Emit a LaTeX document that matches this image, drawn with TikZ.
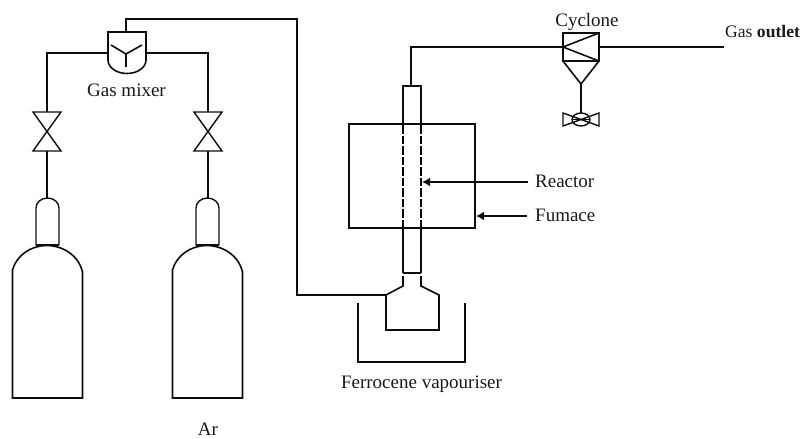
\documentclass[tikz,border=0pt]{standalone}
\usepackage{fontspec}
\setmainfont{Liberation Serif}
\usetikzlibrary{arrows.meta}
\tikzset{
  x=1pt,y=-1pt,
  pipe/.style={draw=black!95,line width=1.6pt,line join=miter},
  thin pipe/.style={pipe,line width=1.4pt},
  lbl/.style={inner sep=0pt,anchor=base,font=\fontsize{19}{20}\selectfont,text=black!90},
  arrowline/.style={pipe,-{Latex[length=8pt,width=9pt]}},
}
\begin{document}
\begin{tikzpicture}
\useasboundingbox (0,0) rectangle (804,439);
% named connection points
\coordinate (mixT) at (126,32);
\coordinate (mixL) at (108,53);
\coordinate (mixR) at (146,53);
\coordinate (v1T) at (47,112);
\coordinate (v1B) at (47,151);
\coordinate (v2T) at (208,112);
\coordinate (v2B) at (208,151);
\coordinate (c1T) at (47,198);
\coordinate (c2T) at (208,198);
\coordinate (flaskL) at (386,295);
\coordinate (reactT) at (411,86);
\coordinate (cycL) at (563,47);
\coordinate (cycR) at (599,47);
\coordinate (cycB) at (581,84);
\coordinate (drainT) at (581,113);
\coordinate (gasEnd) at (724,47);
\coordinate (reactE) at (422,182);
\coordinate (reactS) at (528,182);
\coordinate (furnE) at (476,216);
\coordinate (furnS) at (527,216);

% gas mixer
\draw[pipe] (108,32) -- (146,32) -- (146,60) arc[start angle=0,end angle=180,x radius=19,y radius=13.5] -- cycle;
\draw[pipe] (111,45) -- (126,54) -- (142,45) (126,54) -- (126,67);
% valves
\foreach \x in {47,208}{
  \draw[thin pipe] (\x-14,112) -- (\x+14,112) -- (\x-14,151) -- (\x+14,151) -- cycle;
}
% cylinders
\foreach \x in {47.5,207.5}{
  \draw[thin pipe] (\x-11.5,245) -- (\x-11.5,208) arc[start angle=180,end angle=360,x radius=11.5,y radius=10] -- (\x+11.5,245);
  \draw[pipe,line width=2pt] (\x-11.5,245) -- (\x+11.5,245);
  \draw[pipe] (\x-35,398) -- (\x-35,270) .. controls (\x-31,255) and (\x-16,245.5) .. (\x-1,245.5) .. controls (\x+15,245.5) and (\x+31,255) .. (\x+35,272) -- (\x+35,398) -- cycle;
}
% connectors left part
\draw[pipe] (mixT) -- (126,19) -- (297,19) -- (297,295) -- (flaskL);
\draw[pipe] (mixL) -| (v1T);
\draw[pipe] (mixR) -| (v2T);
\draw[pipe] (v1B) -- (c1T);
\draw[pipe] (v2B) -- (c2T);
% furnace
\draw[thin pipe] (349,124) rectangle (475,228);
% reactor
\draw[pipe,line width=1.9pt] (403,125) -- (403,86) -- (421,86) -- (421,125);
\draw[pipe] (403,273) -- (421,273);
\draw[pipe,line width=1.9pt] (403,221) -- (403,273);
\draw[pipe] (421,221) -- (421,273);
\draw[line width=2.5pt,black,dash pattern=on 8.5pt off 2pt] (403,125) -- (403,221);
\draw[line width=1.5pt,black,dash pattern=on 8.5pt off 2pt] (421,125) -- (421,221);
% flask and bath
\draw[pipe] (403,276) -- (403,286) -- (flaskL) -- (386,330) -- (439,330) -- (439,295) -- (421,286) -- (421,276);
\draw[pipe] (358,303) -- (358,362) -- (465,362) -- (465,303);
% cyclone
\draw[pipe] (563,33) rectangle (599,61);
\draw[pipe] (599,33) -- (cycL) -- (599,61);
\draw[pipe] (563,61) -- (cycB) -- (599,61);
\draw[pipe] (reactT) -- (411,47) -- (cycL);
\draw[pipe] (cycR) -- (gasEnd);
\draw[pipe] (cycB) -- (drainT);
\draw[thin pipe] (563,113) -- (599,126) -- (599,113) -- (563,126) -- cycle;
\draw[thin pipe] (581,119.5) ellipse[x radius=9,y radius=6.5];
\draw[thin pipe] (572,119.5) -- (590,119.5);
% labels and arrows
\node[lbl,anchor=base west,font=\fontsize{17.6}{20}\selectfont] (gas) at (725,37) {Gas \textbf{outlet}};
\node[lbl] (cyc) at (587,26) {Cyclone};
\node[lbl] (mix) at (126.5,96) {Gas mixer};
\node[lbl,anchor=base west] (rea) at (535,187) {Reactor};
\node[lbl,anchor=base west] (fur) at (535,221.5) {Fumace};
\node[lbl] (fer) at (421.5,388) {Ferrocene vapouriser};
\node[lbl] (ar) at (208,435) {Ar};
\draw[arrowline] (reactS) -- (reactE);
\draw[arrowline] (furnS) -- (furnE);
\end{tikzpicture}
\end{document}
